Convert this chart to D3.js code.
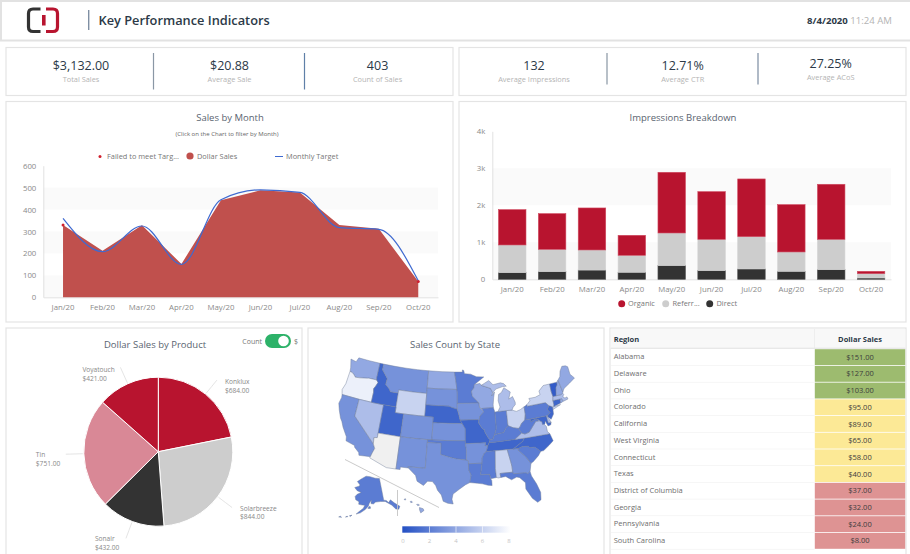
<!DOCTYPE html>
<html>
<head>
<meta charset="utf-8">
<title>Key Performance Indicators</title>
<script src="https://cdn.jsdelivr.net/npm/d3@7"></script>
<style>
    html, body { margin: 0; padding: 0; background: #fff; }
    svg { display: block; font-family: "Open Sans", "Noto Sans", sans-serif; }
    .axis text { fill: #8a8a8a; font-size: 7.8px; font-family: "Open Sans", sans-serif; }
    .axis path { stroke: #e2e2e2; }
    .panel { fill: #fff; stroke: #e4e4e4; stroke-width: 1.2; }
</style>
</head>
<body>
<svg id="dash" width="910" height="554"></svg>
<script>
// ###### DATA ######
var months = ["Jan/20", "Feb/20", "Mar/20", "Apr/20", "May/20", "Jun/20", "Jul/20", "Aug/20", "Sep/20", "Oct/20"];
var dollarSales = [330, 212, 328, 152, 442, 488, 478, 330, 312, 72];
var monthlyTarget = [360, 208, 325, 150, 445, 490, 478, 318, 310, 75];
var failedMonths = ["Jan/20", "Oct/20"];
var salesTicks = [0, 100, 200, 300, 400, 500, 600];

var directImpr = [180, 207, 250, 190, 370, 234, 280, 216, 260, 36];
var referralImpr = [748, 604, 543, 459, 882, 847, 873, 523, 821, 117];
var organicImpr = [955, 964, 1135, 540, 1640, 1288, 1559, 1279, 1487, 63];
var imprTicks = [0, 1000, 2000, 3000, 4000];

var products = ["Konklux", "Solarbreeze", "Sonair", "Tin", "Voyatouch"];
var productSales = [684, 844, 432, 751, 421];

var kpiValues = ["$3,132.00", "$20.88", "403", "132", "12.71%", "27.25%"];
var kpiLabels = ["Total Sales", "Average Sale", "Count of Sales", "Average Impressions", "Average CTR", "Average ACoS"];

var regions = ["Alabama", "Delaware", "Ohio", "Colorado", "California", "West Virginia", "Connecticut", "Texas", "District of Columbia", "Georgia", "Pennsylvania", "South Carolina"];
var regionSales = [151, 127, 103, 95, 89, 65, 58, 40, 37, 32, 24, 8];

var countTicks = [0, 2, 4, 6, 8];
var stateCounts = {
    WA: 4, OR: 7.3, CA: 3, NV: 5, ID: 1, MT: 3, WY: 6, UT: 1, CO: 3, NM: 3, ND: 4, SD: 3, NE: 1, KS: 3, OK: 2, TX: 3,
    MN: 2, IA: 3, MO: 1, AR: 3, LA: 2, WI: 4, IL: 2, IN: 2, MI: 5, OH: 6, KY: 2, TN: 1, MS: 2, AL: 6, GA: 3, FL: 2,
    SC: 2, NC: 1, VA: 5, WV: 2, MD: 1, DE: 5, PA: 2, NJ: 1, NY: 6, CT: 1, RI: 4, MA: 5, VT: 0.5, NH: 4, ME: 4, AK: 2, HI: 4
};

// simplified state outlines, [lon, lat] rings
var stateShapes = {
    WA: [[[-124.7,48.4],[-123.2,48.2],[-122.8,49],[-120,49],[-117.03,49],[-117.04,46.4],[-116.92,46],[-118.98,46],[-119.3,45.93],[-121.2,45.65],[-122.3,45.55],[-122.8,45.9],[-123.4,46.2],[-124,46.27],[-124.1,46.9]]],
    OR: [[[-124,46.27],[-123.4,46.2],[-122.8,45.9],[-122.3,45.55],[-121.2,45.65],[-119.3,45.93],[-118.98,46],[-116.92,46],[-116.46,45.6],[-116.85,44.9],[-117.2,44.4],[-117.03,43.8],[-117.03,42],[-120,42],[-124.21,42],[-124.55,42.84],[-124.1,44]]],
    CA: [[[-124.21,42],[-120,42],[-120,39],[-114.63,35],[-114.15,34.27],[-114.5,33.4],[-114.72,32.72],[-117.12,32.53],[-117.3,33],[-118.4,33.75],[-118.5,34.03],[-120.5,34.45],[-120.65,35.15],[-121.9,36.6],[-122.5,37.5],[-123,38],[-123.8,39.3],[-124.35,40.4],[-124.1,41.5]]],
    NV: [[[-120,42],[-117.03,42],[-114.04,42],[-114.04,36.2],[-114.75,36.1],[-114.63,35],[-120,39]]],
    ID: [[[-117.03,49],[-116.05,49],[-116.05,48],[-114.4,46.65],[-114.5,45.56],[-113.45,44.95],[-113,44.45],[-111.05,44.48],[-111.05,42],[-114.04,42],[-117.03,42],[-117.03,43.8],[-117.2,44.4],[-116.85,44.9],[-116.46,45.6],[-116.92,46],[-117.04,46.4]]],
    MT: [[[-116.05,49],[-113,49],[-110,49],[-107,49],[-104.05,49],[-104.05,45.94],[-104.05,45],[-107.5,45],[-111.05,45],[-111.05,44.48],[-113,44.45],[-113.45,44.95],[-114.5,45.56],[-114.4,46.65],[-116.05,48]]],
    WY: [[[-111.05,45],[-107.5,45],[-104.05,45],[-104.05,43],[-104.05,41],[-107.5,41],[-109.05,41],[-111.05,41],[-111.05,42],[-111.05,44.48]]],
    UT: [[[-114.04,42],[-111.05,42],[-111.05,41],[-109.05,41],[-109.05,37],[-114.04,37]]],
    AZ: [[[-114.04,37],[-109.05,37],[-109.05,31.33],[-111.07,31.33],[-114.81,32.5],[-114.72,32.72],[-114.5,33.4],[-114.15,34.27],[-114.63,35],[-114.75,36.1],[-114.04,36.2]]],
    CO: [[[-109.05,41],[-105.5,41],[-102.05,41],[-102.05,40],[-102.05,37],[-105.5,37],[-109.05,37]]],
    NM: [[[-109.05,37],[-106,37],[-103,37],[-103.04,32],[-106.62,32],[-106.53,31.78],[-108.2,31.78],[-108.2,31.33],[-109.05,31.33]]],
    ND: [[[-104.05,49],[-100.5,49],[-97.23,49],[-96.85,47.5],[-96.56,45.94],[-100.5,45.94],[-104.05,45.94]]],
    SD: [[[-104.05,45.94],[-100.5,45.94],[-96.56,45.94],[-96.45,45.3],[-96.45,43.5],[-96.45,42.49],[-97.9,42.8],[-98.5,43],[-101,43],[-104.05,43],[-104.05,45]]],
    NE: [[[-104.05,43],[-101,43],[-98.5,43],[-97.9,42.8],[-96.45,42.49],[-96.1,41.6],[-95.77,40.58],[-95.3,40],[-98.5,40],[-102.05,40],[-102.05,41],[-104.05,41]]],
    KS: [[[-102.05,40],[-98.5,40],[-95.3,40],[-94.6,39.1],[-94.62,37],[-98.5,37],[-102.05,37]]],
    OK: [[[-103,37],[-102.05,37],[-98.5,37],[-94.62,37],[-94.62,36.5],[-94.43,35.4],[-94.48,33.64],[-96.6,33.85],[-98.1,34.13],[-100,34.56],[-100,36.5],[-103,36.5]]],
    TX: [[[-106.62,32],[-103.04,32],[-103,36.5],[-100,36.5],[-100,34.56],[-98.1,34.13],[-96.6,33.85],[-94.48,33.64],[-94.04,33.55],[-94.04,33],[-94.04,31.99],[-93.52,31],[-93.84,29.7],[-94.7,29.35],[-95.9,28.6],[-97.2,27.7],[-97.4,26.8],[-97.15,25.95],[-98.2,26.06],[-99.1,26.4],[-99.5,27.5],[-100.3,28.3],[-100.7,29.1],[-101.4,29.77],[-102.4,29.77],[-103.15,28.98],[-104.5,29.65],[-104.9,30.6],[-106.53,31.78]]],
    MN: [[[-97.23,49],[-95.15,49],[-95.15,49.38],[-94.8,49.3],[-94.6,48.72],[-93,48.6],[-91.5,48.1],[-89.6,48],[-92.1,46.75],[-92.3,46.1],[-92.9,45.6],[-92.75,44.75],[-91.2,43.5],[-93.8,43.5],[-96.45,43.5],[-96.45,45.3],[-96.56,45.94],[-96.85,47.5]]],
    IA: [[[-96.45,43.5],[-93.8,43.5],[-91.2,43.5],[-91.1,42.7],[-90.15,41.9],[-91.1,41.2],[-91.42,40.38],[-91.7,40.6],[-95.77,40.58],[-96.1,41.6],[-96.45,42.49]]],
    MO: [[[-95.77,40.58],[-91.7,40.6],[-91.42,40.38],[-91.5,40],[-90.7,39],[-90.2,38.8],[-90.2,38.4],[-89.5,37.3],[-89.13,36.98],[-89.4,36.5],[-89.7,36],[-90.37,36],[-90.15,36.5],[-94.62,36.5],[-94.62,37],[-94.6,39.1],[-95.3,40]]],
    AR: [[[-94.62,36.5],[-90.15,36.5],[-90.37,36],[-89.7,36],[-90.1,35],[-90.6,34.7],[-91.1,33.9],[-91.17,33],[-94.04,33],[-94.04,33.55],[-94.48,33.64],[-94.43,35.4]]],
    LA: [[[-94.04,33],[-91.17,33],[-91.6,31],[-89.73,31],[-89.6,30.2],[-89.4,29.9],[-89.4,29],[-90.2,29.1],[-91.3,29.4],[-92.3,29.55],[-93.84,29.7],[-93.52,31],[-94.04,31.99]]],
    WI: [[[-92.1,46.75],[-90.7,46.9],[-90.4,46.55],[-88.1,45.9],[-87.6,45.1],[-88,44.55],[-87.2,45.2],[-87.5,44.3],[-87.8,43],[-87.8,42.49],[-90.64,42.5],[-91.1,42.7],[-91.2,43.5],[-92.75,44.75],[-92.9,45.6],[-92.3,46.1]]],
    IL: [[[-90.64,42.5],[-87.8,42.49],[-87.53,41.7],[-87.53,39.3],[-87.6,38.7],[-88.05,37.8],[-88.5,37.1],[-89.13,36.98],[-89.5,37.3],[-90.2,38.4],[-90.2,38.8],[-90.7,39],[-91.5,40],[-91.42,40.38],[-91.1,41.2],[-90.15,41.9]]],
    IN: [[[-87.53,41.7],[-87.2,41.75],[-86.8,41.76],[-84.8,41.76],[-84.82,39.1],[-85.4,38.7],[-86,38],[-86.8,37.95],[-88.05,37.8],[-87.6,38.7],[-87.53,39.3]]],
    OH: [[[-84.8,41.76],[-83.45,41.73],[-82.5,41.4],[-81.5,41.6],[-80.52,41.98],[-80.52,40.64],[-80.85,39.7],[-81.7,39.2],[-82.2,38.6],[-82.6,38.42],[-83.7,38.65],[-84.82,39.1]]],
    KY: [[[-89.13,36.98],[-88.5,37.1],[-88.05,37.8],[-86.8,37.95],[-86,38],[-85.4,38.7],[-84.82,39.1],[-83.7,38.65],[-82.6,38.42],[-81.97,37.54],[-83.68,36.6],[-88.07,36.5],[-89.4,36.5]]],
    TN: [[[-89.4,36.5],[-88.07,36.5],[-83.68,36.6],[-81.68,36.59],[-82,36.1],[-84.32,35],[-88.2,35],[-90.1,35],[-89.7,36]]],
    MS: [[[-90.1,35],[-88.2,35],[-88.47,31.9],[-88.4,30.35],[-89.6,30.2],[-89.73,31],[-91.6,31],[-91.17,33],[-91.1,33.9],[-90.6,34.7]]],
    AL: [[[-88.2,35],[-85.6,35],[-85.13,32.8],[-85,32],[-85,31],[-87.6,31],[-87.5,30.3],[-88,30.25],[-88.4,30.35],[-88.47,31.9]]],
    GA: [[[-85.6,35],[-84.32,35],[-83.1,35],[-83.3,34.7],[-81.9,33.4],[-81,32.1],[-81.45,30.72],[-82.05,30.36],[-82.2,30.57],[-84.86,30.7],[-85,31],[-85,32],[-85.13,32.8]]],
    FL: [[[-87.6,31],[-85,31],[-84.86,30.7],[-82.2,30.57],[-82.05,30.36],[-81.45,30.72],[-81.3,29.9],[-80.55,28.4],[-80.03,26.8],[-80.2,25.5],[-80.9,25.15],[-81.8,26],[-82.8,27.8],[-82.7,28.9],[-83.7,29.9],[-84.3,30.07],[-85.4,29.7],[-86.5,30.38],[-87.5,30.3]]],
    SC: [[[-83.1,35],[-82.3,35.2],[-81,35.15],[-80.8,34.82],[-79.67,34.8],[-78.55,33.86],[-79.2,33.2],[-80.5,32.3],[-81,32.1],[-81.9,33.4],[-83.3,34.7]]],
    NC: [[[-84.32,35],[-82,36.1],[-81.68,36.59],[-75.87,36.55],[-75.5,35.25],[-76.5,34.65],[-77.9,33.9],[-78.55,33.86],[-79.67,34.8],[-80.8,34.82],[-81,35.15],[-82.3,35.2],[-83.1,35]]],
    VA: [[[-83.68,36.6],[-81.97,37.54],[-81.3,37.3],[-80.3,37.5],[-79.3,38.4],[-78.4,39.17],[-77.83,39.13],[-77.5,39.1],[-77.05,38.85],[-76.3,37.9],[-76.3,37],[-75.87,36.55],[-81.68,36.59]]],
    WV: [[[-82.6,38.42],[-82.2,38.6],[-81.7,39.2],[-80.85,39.7],[-80.52,40.64],[-80.52,39.72],[-79.48,39.72],[-79.48,39.2],[-78.3,39.62],[-77.75,39.32],[-77.83,39.13],[-78.4,39.17],[-79.3,38.4],[-80.3,37.5],[-81.3,37.3],[-81.97,37.54]]],
    MD: [[[-79.48,39.72],[-75.79,39.72],[-75.7,38.46],[-75.05,38.45],[-75.25,38.03],[-75.9,37.95],[-76.3,38.9],[-76.5,38.4],[-77.05,38.4],[-77.05,38.85],[-77.5,39.1],[-77.75,39.32],[-78.3,39.62],[-79.48,39.2]]],
    DE: [[[-75.79,39.72],[-75.4,39.8],[-75.55,39.5],[-75.05,38.45],[-75.7,38.46]]],
    PA: [[[-80.52,41.98],[-79.76,42.27],[-79.76,42],[-75.35,42],[-74.7,41.36],[-75.1,40.9],[-75.2,40.68],[-74.72,40.15],[-75.4,39.8],[-75.79,39.72],[-79.48,39.72],[-80.52,39.72],[-80.52,40.64]]],
    NJ: [[[-74.7,41.36],[-73.9,41],[-74,40.45],[-74.1,39.75],[-74.9,38.95],[-75.55,39.5],[-75.4,39.8],[-74.72,40.15],[-75.2,40.68],[-75.1,40.9]]],
    NY: [[[-79.76,42.27],[-78.9,42.85],[-79.05,43.27],[-77.5,43.27],[-76.2,43.55],[-76.3,44.2],[-75,44.98],[-74.7,45],[-73.35,45],[-73.4,43.6],[-73.27,42.75],[-73.5,42.05],[-73.5,41.3],[-73.65,41],[-72,41.05],[-73.9,40.55],[-73.9,41],[-74.7,41.36],[-75.35,42],[-79.76,42]]],
    CT: [[[-73.5,42.05],[-71.8,42.02],[-71.85,41.32],[-73.65,41],[-73.5,41.3]]],
    RI: [[[-71.8,42.02],[-71.38,42.02],[-71.15,41.5],[-71.85,41.32]]],
    MA: [[[-73.27,42.75],[-72.45,42.73],[-71.3,42.7],[-70.8,42.87],[-70.65,42.6],[-71,42.3],[-70.6,41.95],[-70.05,42.05],[-69.95,41.67],[-70.7,41.55],[-71.15,41.5],[-71.38,42.02],[-71.8,42.02],[-73.5,42.05]]],
    VT: [[[-73.35,45],[-71.5,45],[-71.6,44.5],[-72.05,44.1],[-72.45,42.73],[-73.27,42.75],[-73.4,43.6]]],
    NH: [[[-71.5,45],[-71.08,45.3],[-70.7,43.07],[-70.8,42.87],[-71.3,42.7],[-72.45,42.73],[-72.05,44.1],[-71.6,44.5]]],
    ME: [[[-71.08,45.3],[-70.4,45.8],[-70,46.7],[-69.2,47.45],[-68.3,47.35],[-67.8,47.07],[-67.8,45.7],[-67,44.85],[-68.5,44.25],[-70.2,43.6],[-70.7,43.07]]],
    MI: [
        [[-86.8,41.76],[-84.8,41.76],[-83.45,41.73],[-83.1,42.2],[-82.5,42.6],[-82.45,43],[-82.9,44.05],[-83.9,43.7],[-83.3,44.9],[-84.75,45.78],[-85.5,45],[-86.25,44.7],[-86.5,43.6],[-86.2,42.5]],
        [[-90.4,46.55],[-88.1,45.9],[-87.6,45.1],[-86.8,45.7],[-85,46],[-84.1,46],[-84.7,46.5],[-85.5,46.7],[-87.4,46.5],[-88.4,47.3],[-89.6,46.85]]
    ]
};
var alaskaShape = [
    [[-141,69.6],[-141,60.3],[-139,60],[-137.5,58.9],[-135.5,59.8],[-133,58],[-130,56],[-131.5,55],[-133.5,55.5],[-135.5,57.5],[-137.5,58.5],[-140,59.7],[-144,60],[-148,60],[-150,59.3],[-152,59.5],[-151.5,61],[-153.5,59.5],[-154,58.5],[-156.5,57],[-160,55.5],[-163,54.8],[-161,56],[-158,57.5],[-157,58.8],[-159,58.8],[-162,59],[-162,60],[-165,60.7],[-166,62],[-164.5,63],[-161,64],[-165,64.5],[-168,65.6],[-164,66.5],[-163,67],[-166.5,68.3],[-163,69.5],[-157,71],[-152,70.8],[-146,70]],
    [[-154.5,57.5],[-152.5,57.5],[-152.5,58.2],[-153.5,58.3]],
    [[-166.8,53.4],[-165.8,54.1],[-167.5,53.6]],
    [[-170,52.7],[-168.5,53.1],[-169,53.3]],
    [[-174.5,52],[-172.5,52.2],[-173.5,52.5]]
];
var hawaiiShape = [
    [[-156,20.2],[-155.1,19.9],[-154.9,19.5],[-155.7,18.95],[-156,19.7]],
    [[-156.7,20.9],[-156.3,20.95],[-156,20.75],[-156.4,20.6]],
    [[-158.25,21.55],[-158,21.7],[-157.7,21.4],[-158.1,21.3]],
    [[-159.75,22.1],[-159.4,22.2],[-159.35,21.95],[-159.6,21.9]]
];

// ###### COLOURS ######
var crimson = "#b8142f";
var areaRed = "#c0504d";
var lineBlue = "#3f6ad0";
var pieColors = [crimson, "#cdcdcd", "#333333", "#d98896", crimson];
var navy = "#2c3947";
var titleGrey = "#5a6470";
var lightText = "#b4b4b4";

var svg = d3.select("#dash");

function money(v) {
    return "$" + v.toFixed(2);
}

function addPanel(x, y, w, h) {
    svg.append("rect").attr("class", "panel")
        .attr("x", x).attr("y", y).attr("width", w).attr("height", h);
}

function addText(x, y, str, size, color, anchor, weight) {
    return svg.append("text")
        .attr("x", x).attr("y", y)
        .attr("text-anchor", anchor || "middle")
        .attr("font-size", size)
        .attr("font-weight", weight || 400)
        .attr("fill", color)
        .text(str);
}

// ###### HEADER ######
svg.append("rect").attr("x", 1).attr("y", 1).attr("width", 920).attr("height", 39.5)
    .attr("fill", "#fff").attr("stroke", "#e2e2e2").attr("stroke-width", 2);

svg.append("path").attr("d", "M40.5,9 H33 Q28.5,9 28.5,13.5 V27 Q28.5,31.5 33,31.5 H40.5")
    .attr("fill", "none").attr("stroke", "#333").attr("stroke-width", 3.2);
svg.append("path").attr("d", "M46,9 H53 Q57.5,9 57.5,13.5 V27 Q57.5,31.5 53,31.5 H46")
    .attr("fill", "none").attr("stroke", crimson).attr("stroke-width", 3.2);
svg.append("rect").attr("x", 42).attr("y", 15).attr("width", 3.6).attr("height", 10.5).attr("fill", crimson);

svg.append("rect").attr("x", 88).attr("y", 10).attr("width", 1.4).attr("height", 20).attr("fill", "#7f8fa3");
addText(98.5, 25, "Key Performance Indicators", 12.8, navy, "start", 600);

var stamp = addText(892, 24, "", 9.6, navy, "end", 700);
stamp.append("tspan").text("8/4/2020 ");
stamp.append("tspan").attr("font-weight", 400).attr("fill", lightText).text("11:24 AM");

// ###### KPI STRIPS ######
addPanel(6, 47.5, 447, 48);
addPanel(459, 47.5, 447, 48);

var kpiX = [81, 229.5, 377.6, 534, 682.7, 830.7];
var kpiValueY = [70, 70, 70, 70, 70, 68];
kpiValues.forEach(function(v, i) {
    addText(kpiX[i], kpiValueY[i], v, 12.5, navy, "middle", 500);
    addText(kpiX[i], kpiValueY[i] + 11.5, kpiLabels[i], 7.4, lightText);
});

[[153.5, 89.5, "#8a97a5"], [304.5, 89.5, "#5f80a8"], [607, 84.5, "#8a97a5"], [758, 84.5, "#7d8ea3"]].forEach(function(d) {
    svg.append("rect").attr("x", d[0] - 0.6).attr("y", 53).attr("width", 1.2).attr("height", d[1] - 53).attr("fill", d[2]);
});

// ###### SALES BY MONTH ######
addPanel(6, 101.5, 447, 220.5);
addText(230, 120.5, "Sales by Month", 9.5, titleGrey);
addText(227, 135.5, "(Click on the Chart to filter by Month)", 6, "#666");

var salesX = d3.scaleBand().domain(months).range([43.3, 438]);
var salesY = d3.scaleLinear().domain([0, 600]).range([297.3, 165.7]);
var salesMid = function(m) { return salesX(m) + salesX.bandwidth() / 2; };

[[0, 100], [200, 300], [400, 500]].forEach(function(b) {
    svg.append("rect").attr("x", 43.3).attr("width", 394.7)
        .attr("y", salesY(b[1])).attr("height", salesY(b[0]) - salesY(b[1])).attr("fill", "#fafafa");
});

svg.append("g").attr("class", "axis").attr("transform", "translate(0,297.3)")
    .call(d3.axisBottom(salesX).tickSize(0).tickPadding(7));
svg.append("g").attr("class", "axis").attr("transform", "translate(43.3,0)")
    .call(d3.axisLeft(salesY).tickValues(salesTicks).tickSize(0).tickPadding(7));

svg.append("path").attr("fill", areaRed)
    .attr("d", d3.area().x(function(m) { return salesMid(m); })
        .y0(salesY(0))
        .y1(function(m, i) { return salesY(dollarSales[i]); })(months));

svg.append("path").attr("fill", "none").attr("stroke", lineBlue).attr("stroke-width", 1.2)
    .attr("d", d3.line().curve(d3.curveMonotoneX)
        .x(function(m) { return salesMid(m); })
        .y(function(m, i) { return salesY(monthlyTarget[i]); })(months));

svg.selectAll(".failed").data(failedMonths).enter().append("circle")
    .attr("class", "failed").attr("r", 1.5).attr("fill", "#d0202e")
    .attr("cx", salesMid)
    .attr("cy", function(m) { return salesY(dollarSales[months.indexOf(m)]); });

svg.append("circle").attr("cx", 100).attr("cy", 156.5).attr("r", 1.5).attr("fill", "#d0202e");
addText(107, 159, "Failed to meet Targ...", 7.4, "#777", "start");
svg.append("circle").attr("cx", 190).attr("cy", 156).attr("r", 3.6).attr("fill", areaRed);
addText(197, 159, "Dollar Sales", 7.4, "#777", "start");
svg.append("rect").attr("x", 275).attr("y", 156).attr("width", 8).attr("height", 1).attr("fill", lineBlue);
addText(286, 159, "Monthly Target", 7.4, "#777", "start");

// ###### IMPRESSIONS BREAKDOWN ######
addPanel(459, 101.5, 447, 220.5);
addText(683, 120.5, "Impressions Breakdown", 9.5, titleGrey);

var imprX = d3.scaleBand().domain(months).range([492.3, 891]);
var imprY = d3.scaleLinear().domain([0, 4000]).range([279.3, 131.3]);
var barW = 27.5;

[[0, 1000], [2000, 3000]].forEach(function(b) {
    svg.append("rect").attr("x", 492.3).attr("width", 398.7)
        .attr("y", imprY(b[1])).attr("height", imprY(b[0]) - imprY(b[1])).attr("fill", "#fafafa");
});

svg.append("g").attr("class", "axis").attr("transform", "translate(0,279.3)")
    .call(d3.axisBottom(imprX).tickSize(0).tickPadding(7));
svg.append("g").attr("class", "axis").attr("transform", "translate(492.3,0)")
    .call(d3.axisLeft(imprY).tickValues(imprTicks).tickSize(0).tickPadding(7)
        .tickFormat(function(v) { return v === 0 ? "0" : (v / 1000) + "k"; }));

var stackRows = months.map(function(m, i) {
    return { month: m, direct: directImpr[i], referral: referralImpr[i], organic: organicImpr[i] };
});
var imprColors = { direct: "#333333", referral: "#cdcdcd", organic: crimson };
var imprEdges = { direct: "#555555", referral: "#d4d4d4", organic: "#d04a60" };
var layers = d3.stack().keys(["direct", "referral", "organic"])(stackRows);

svg.selectAll(".layer").data(layers).enter().append("g").attr("class", "layer")
    .attr("fill", function(l) { return imprColors[l.key]; })
    .attr("stroke", function(l) { return imprEdges[l.key]; })
    .attr("stroke-width", 0.6)
    .selectAll("rect").data(function(l) { return l; }).enter().append("rect")
    .attr("x", function(d) { return imprX(d.data.month) + (imprX.bandwidth() - barW) / 2; })
    .attr("width", barW)
    .attr("y", function(d) { return imprY(d[1]); })
    .attr("height", function(d) { return imprY(d[0]) - imprY(d[1]); });

[[621.7, 628, "Organic", crimson], [665.7, 672.5, "Referr...", "#cdcdcd"], [709.7, 716.5, "Direct", "#333333"]].forEach(function(d) {
    svg.append("circle").attr("cx", d[0]).attr("cy", 303.7).attr("r", 3.5).attr("fill", d[3]);
    addText(d[1], 306.3, d[2], 7.4, "#777", "start");
});

// ###### DOLLAR SALES BY PRODUCT ######
addPanel(6, 328, 296, 240);
addText(155, 347.5, "Dollar Sales by Product", 9.5, titleGrey);

addText(262, 343.5, "Count", 7, "#777", "end");
svg.append("rect").attr("x", 265).attr("y", 334).attr("width", 26).attr("height", 14).attr("rx", 7).attr("fill", "#2db269");
svg.append("circle").attr("cx", 283.5).attr("cy", 341).attr("r", 5.3).attr("fill", "#fff");
addText(294, 343.5, "$", 7, "#777", "start");

var pieCx = 158.3, pieCy = 451.7, pieR = 74.5;
var slices = d3.pie().sort(null)(productSales);
var arc = d3.arc().innerRadius(0).outerRadius(pieR);
var pieG = svg.append("g").attr("transform", "translate(" + pieCx + "," + pieCy + ")");

pieG.selectAll("path.slice").data(slices).enter().append("path").attr("class", "slice")
    .attr("d", arc)
    .attr("fill", function(d, i) { return pieColors[i]; })
    .attr("stroke", "#fff").attr("stroke-width", 1);

function polar(angle, r) {
    return [Math.sin(angle) * r, -Math.cos(angle) * r];
}

// label offsets from the end of each leader line
var labelDx = [8, 8, -31, -30, -38];
var labelDy = [4, 3, 3, 3, 5];

slices.forEach(function(d, i) {
    var mid = (d.startAngle + d.endAngle) / 2;
    var a = polar(mid, pieR + 1), b = polar(mid, pieR + 10), c = polar(mid, pieR + 18);
    pieG.append("path").attr("fill", "none").attr("stroke", "#d8d8d8").attr("stroke-width", 0.7)
        .attr("d", "M" + a + "Q" + b + " " + [c[0], c[1]]);
    var tx = c[0] + labelDx[i], ty = c[1] + labelDy[i];
    pieG.append("text").attr("x", tx).attr("y", ty).attr("font-size", 6.6).attr("fill", "#888").text(products[i]);
    pieG.append("text").attr("x", tx).attr("y", ty + 8.5).attr("font-size", 6.6).attr("fill", "#888").text(money(productSales[i]));
});

// ###### SALES COUNT BY STATE ######
addPanel(308, 328, 296, 240);
addText(455, 347.5, "Sales Count by State", 9.5, titleGrey);

var countColor = d3.scaleLinear().domain([0, 8]).range(["#2450c4", "#ffffff"]);

// lower 48 plus two insets, same conics as d3.geoAlbersUsa but Alaska is bigger here
var lowerProj = d3.geoAlbers().scale(327).translate([456.5, 431]);
var alaskaProj = d3.geoConicEqualArea().rotate([154, 0]).center([-2, 58.5]).parallels([55, 65])
    .scale(137).translate([366, 506]);
var hawaiiProj = d3.geoConicEqualArea().rotate([157, 0]).center([-3, 19.9]).parallels([8, 18])
    .scale(250).translate([403, 508.7]);

function shapeFeature(rings) {
    var coords = rings.map(function(ring) {
        var closed = ring.concat([ring[0]]);
        // d3 wants clockwise rings on the sphere
        return d3.geoArea({ type: "Polygon", coordinates: [closed] }) > 2 * Math.PI ? [closed.slice().reverse()] : [closed];
    });
    return { type: "MultiPolygon", coordinates: coords };
}

function drawStates(rowsByCode, proj) {
    var geoPath = d3.geoPath(proj);
    svg.append("g").selectAll("path").data(Object.keys(rowsByCode)).enter().append("path")
        .attr("d", function(s) { return geoPath(shapeFeature(rowsByCode[s])); })
        .attr("fill", function(s) { return stateCounts[s] === undefined ? "#f0f0f0" : countColor(stateCounts[s]); })
        .attr("stroke", "#6f7d98").attr("stroke-width", 0.45);
}

drawStates(stateShapes, lowerProj);
drawStates({ AK: alaskaShape }, alaskaProj);
drawStates({ HI: hawaiiShape }, hawaiiProj);

// inset dividers
svg.append("line").attr("x1", 345).attr("y1", 459.5).attr("x2", 439).attr("y2", 507.5).attr("stroke", "#c4c4c4").attr("stroke-width", 0.9);
svg.append("line").attr("x1", 397.5).attr("y1", 490).attr("x2", 397.5).attr("y2", 516).attr("stroke", "#c4c4c4").attr("stroke-width", 0.9);

var legendX = d3.scaleLinear().domain([0, 8]).range([403, 509]);
var grad = svg.append("defs").append("linearGradient").attr("id", "countGrad");
grad.append("stop").attr("offset", "0%").attr("stop-color", countColor(0));
grad.append("stop").attr("offset", "100%").attr("stop-color", countColor(8));
svg.append("rect").attr("x", 402.3).attr("y", 526.3).attr("width", 108.4).attr("height", 6.4).attr("fill", "url(#countGrad)");
countTicks.forEach(function(t) {
    if (t > 0 && t < 8) {
        svg.append("rect").attr("x", legendX(t) - 0.3).attr("y", 526.3).attr("width", 0.6).attr("height", 6.4).attr("fill", "#fff");
    }
    addText(legendX(t), 543, t, 6, "#c4c4c4");
});

// ###### REGION TABLE ######
var rowY = d3.scaleBand().domain(regions).range([348.8, 549.2]);
var cellColor = d3.scaleThreshold().domain([37.5, 100]).range(["#de9393", "#fce996", "#9dbb6f"]);

addPanel(610, 328, 296, 240);
svg.append("rect").attr("x", 610.6).attr("y", 329).attr("width", 294.8).attr("height", 19).attr("fill", "#f8f8f8");
svg.append("rect").attr("x", 610.6).attr("y", 347.6).attr("width", 294.8).attr("height", 1.4).attr("fill", "#e8e8e8");
svg.append("rect").attr("x", 814.2).attr("y", 329).attr("width", 0.6).attr("height", 19).attr("fill", "#e8e8e8");
addText(613.7, 341.5, "Region", 7.5, navy, "start", 700);
addText(860, 341.5, "Dollar Sales", 7.5, navy, "middle", 700);

regions.forEach(function(r, i) {
    var y = rowY(r), h = rowY.bandwidth();
    svg.append("rect").attr("x", 610.6).attr("y", y + h - 0.3).attr("width", 204).attr("height", 0.6).attr("fill", "#f0f0f0");
    svg.append("rect").attr("x", 814.8).attr("y", y + 0.4).attr("width", 90.4).attr("height", h - 0.8)
        .attr("fill", cellColor(regionSales[i]));
    addText(613.7, y + h / 2 + 2.2, r, 7.5, "#6e6e6e", "start");
    addText(860, y + h / 2 + 2.6, money(regionSales[i]), 7.5, "#3c3c3c");
});
</script>
</body>
</html>
